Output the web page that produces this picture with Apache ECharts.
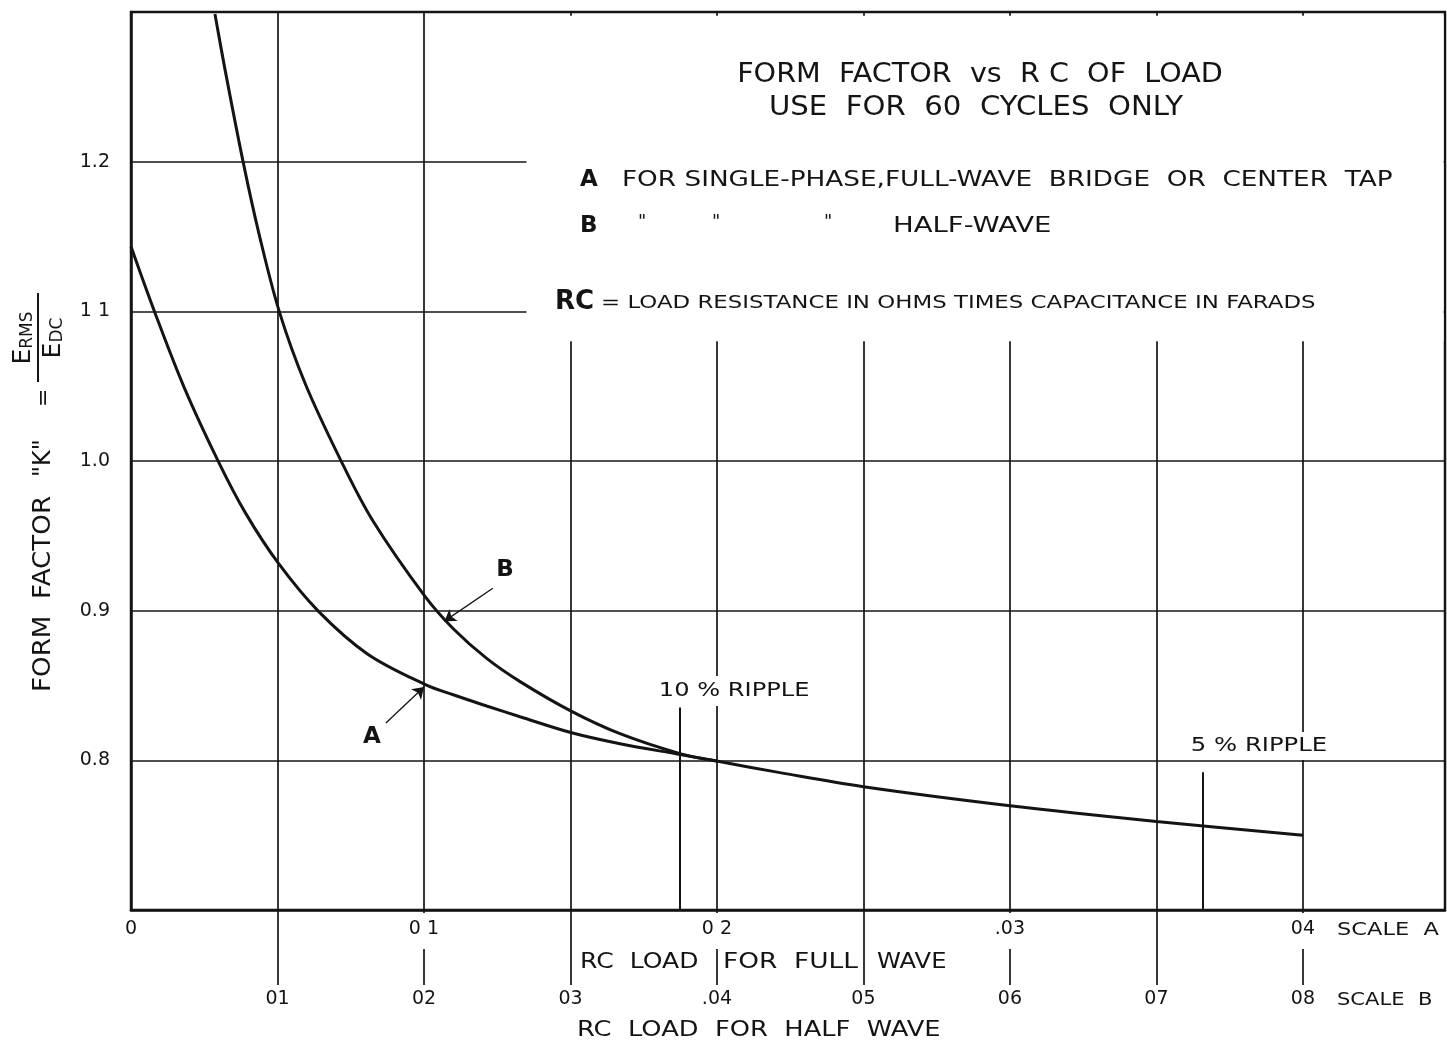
<!DOCTYPE html>
<html>
<head>
<meta charset="utf-8">
<title>Form factor vs RC of load</title>
<script src="https://cdn.jsdelivr.net/npm/echarts@6/dist/echarts.min.js"></script>
<style>
  html, body { margin: 0; padding: 0; background: #fff; }
  #chart { width: 1447px; height: 1046px; }
</style>
</head>
<body>
<div id="chart"></div>
<script>
// curve A: single-phase full wave, RC read on scale A
const curveA_rc = [0, 0.00082, 0.00182, 0.0030, 0.0039, 0.00501, 0.0064, 0.00807, 0.01003, 0.0110, 0.01214, 0.01328, 0.01504, 0.01669, 0.01874, 0.01999, 0.02215, 0.025, 0.030, 0.035, 0.040];
const curveA_k  = [1.1433, 1.0989, 1.0489, 0.9989, 0.9655, 0.9322, 0.8995, 0.8711, 0.8508, 0.8438, 0.8363, 0.8291, 0.8184, 0.8111, 0.8039, 0.7995, 0.7918, 0.7824, 0.7697, 0.7592, 0.7499];

// curve B: half wave, RC read on scale B
const curveB_rc = [0.00573, 0.00641, 0.00765, 0.00875, 0.01014, 0.01191, 0.01438, 0.01652, 0.02007, 0.0220, 0.02428, 0.02656, 0.03008, 0.03338, 0.03748, 0.03998];
const curveB_k  = [1.2987, 1.262, 1.200, 1.1513, 1.0993, 1.0513, 0.9993, 0.9599, 0.9095, 0.8879, 0.8681, 0.8526, 0.8327, 0.8178, 0.8045, 0.7995];

// ripple markers (scale A) and the K where each marker line stops
const rippleRC  = [0.01874, 0.03659];
const rippleTop = [0.8353, 0.792];
const rippleLabels = ['10 % RIPPLE', '5 % RIPPLE'];

// leader arrows for the curve letters [from, to]
const arrowA = [[0.0087, 0.825], [0.0100, 0.849]]; // scale A
const arrowB = [[0.0247, 0.915], [0.0214, 0.893]]; // scale B

// tick labels, as lettered on the sheet
const scaleATicks  = [0, 0.01, 0.02, 0.03, 0.04];
const scaleALabels = ['0', '0 1', '0 2', '.03', '04'];
const scaleBTicks  = [0.01, 0.02, 0.03, 0.04, 0.05, 0.06, 0.07, 0.08];
const scaleBLabels = ['01', '02', '03', '.04', '05', '06', '07', '08'];
const yTicks  = [0.8, 0.9, 1.0, 1.1, 1.2];
const yLabels = ['0.8', '0.9', '1.0', '1 1', '1.2'];

const INK = '#141414';
const FONT = 'DejaVu Sans';
const X_MAX_A = 0.04485;

const zip = (xs, ys) => xs.map((x, i) => [x, ys[i]]);
const pick = (ticks, labels) => (v) => {
  const i = ticks.findIndex((t) => Math.abs(t - v) < 1e-9);
  return i < 0 ? '' : labels[i];
};

// lettering on the sheet is widely spaced, so stretch text horizontally (sx)
function txt(x, y, text, o = {}) {
  const align = o.align || 'left';
  return {
    type: 'text', x, y, z: 100,
    scaleX: o.sx || 1,
    style: {
      text,
      fill: INK,
      fontFamily: FONT,
      fontSize: o.size || 20,
      fontWeight: o.weight || 'normal',
      align, textAlign: align,
      verticalAlign: 'middle', textVerticalAlign: 'middle',
      backgroundColor: o.bg,
      padding: o.pad,
      rich: o.rich
    }
  };
}

const fracRich = {
  e: { fontFamily: FONT, fontSize: 25, fill: INK, verticalAlign: 'bottom', lineHeight: 26 },
  s: { fontFamily: FONT, fontSize: 17, fill: INK, verticalAlign: 'bottom', lineHeight: 26 }
};

const graphics = [
  // title + key
  txt(980, 75, 'FORM  FACTOR  vs  R C  OF  LOAD', { size: 27, align: 'center', sx: 1.06 }),
  txt(976, 108, 'USE  FOR  60  CYCLES  ONLY', { size: 27, align: 'center', sx: 1.08 }),
  txt(580, 180, 'A', { size: 23, weight: 'bold' }),
  txt(622, 180, 'FOR SINGLE-PHASE,FULL-WAVE  BRIDGE  OR  CENTER  TAP', { size: 22, sx: 1.195 }),
  txt(580, 226, 'B', { size: 23, weight: 'bold' }),
  txt(638, 222, '"', { size: 18 }),
  txt(712, 222, '"', { size: 18 }),
  txt(824, 222, '"', { size: 18 }),
  txt(893, 226, 'HALF-WAVE', { size: 22, sx: 1.25 }),
  txt(555, 302, 'RC', { size: 26, weight: 'bold' }),
  txt(601, 303, '= LOAD RESISTANCE IN OHMS TIMES CAPACITANCE IN FARADS', { size: 18, sx: 1.27 }),

  // ripple notes (white box breaks the grid line like the original)
  txt(655, 691, rippleLabels[0], { size: 19, bg: '#fff', pad: [8, 3, 3, 3], sx: 1.27 }),
  txt(1187, 746, rippleLabels[1], { size: 19, bg: '#fff', pad: [8, 3, 1, 3], sx: 1.28 }),

  // curve letters
  txt(372, 737, 'A', { size: 23, weight: 'bold', align: 'center' }),
  txt(505, 570, 'B', { size: 23, weight: 'bold', align: 'center' }),

  // x axis titles
  txt(1337, 930, 'SCALE  A', { size: 18, sx: 1.25 }),
  txt(1337, 1000, 'SCALE  B', { size: 18, sx: 1.17 }),
  txt(580, 962, 'RC  LOAD', { size: 22, sx: 1.14 }),
  txt(723, 962, 'FOR  FULL', { size: 22, sx: 1.2 }),
  txt(877, 962, 'WAVE', { size: 22, sx: 1.1 }),
  txt(577, 1030, 'RC  LOAD  FOR  HALF  WAVE', { size: 22, sx: 1.17 }),

  // y axis title, read bottom to top
  {
    type: 'group', x: 44, y: 692, rotation: Math.PI / 2, z: 100,
    children: [
      txt(0, 0, 'FORM  FACTOR', { size: 24, sx: 1.09 }),
      txt(215, 0, '"K"', { size: 24 }),
      txt(285, 0, '=', { size: 22 }),
      txt(354, -21, '{e|E}{s|RMS}', { size: 25, align: 'center', rich: fracRich }),
      { type: 'line', z: 100, shape: { x1: 310, y1: -6, x2: 399, y2: -6 }, style: { stroke: INK, lineWidth: 2 } },
      txt(354, 9, '{e|E}{s|DC}', { size: 25, align: 'center', rich: fracRich })
    ]
  }
];

const chart = echarts.init(document.getElementById('chart'));

const option = {
  animation: false,
  backgroundColor: '#fff',
  grid: {
    left: 131, top: 12, width: 1314, height: 898,
    show: true, borderColor: INK, borderWidth: 2.5, backgroundColor: 'transparent'
  },
  xAxis: [
    {
      // scale A: bottom edge and its labels, drawn over the tick lines
      type: 'value', min: 0, max: X_MAX_A, position: 'bottom', z: 3,
      axisLine: { show: true, onZero: false, lineStyle: { color: INK, width: 2.5 } },
      axisTick: { show: false },
      splitLine: { show: false },
      axisLabel: {
        customValues: scaleATicks,
        formatter: pick(scaleATicks, scaleALabels),
        margin: 3,
        color: INK, fontFamily: FONT, fontSize: 19, lineHeight: 20,
        backgroundColor: '#fff', padding: [6, 6, 10, 6]
      }
    },
    {
      // scale B: twice scale A, carries the vertical rules and long ticks
      type: 'value', min: 0, max: X_MAX_A * 2, interval: 0.01, position: 'bottom',
      axisLine: { show: false },
      axisTick: { show: true, customValues: scaleBTicks, length: 75, lineStyle: { color: INK, width: 1.7 } },
      splitLine: { show: true, lineStyle: { color: INK, width: 1.7 } },
      axisLabel: {
        customValues: scaleBTicks,
        formatter: pick(scaleBTicks, scaleBLabels),
        margin: 80,
        color: INK, fontFamily: FONT, fontSize: 19
      }
    }
  ],
  yAxis: {
    type: 'value', min: 0.7, max: 1.3, interval: 0.1,
    axisLine: { show: true, onZero: false, lineStyle: { color: INK, width: 2.5 } },
    axisTick: { show: false },
    splitLine: { show: true, lineStyle: { color: INK, width: 1.7 } },
    axisLabel: {
      customValues: yTicks,
      formatter: pick(yTicks, yLabels),
      margin: 21,
      color: INK, fontFamily: FONT, fontSize: 19
    }
  },
  series: [
    {
      name: 'A', type: 'line', xAxisIndex: 0,
      data: zip(curveA_rc, curveA_k),
      smooth: 0.35, showSymbol: false, silent: true,
      lineStyle: { color: INK, width: 3 },
      // blank panel behind the title block (rules stop at its edge)
      markArea: {
        silent: true,
        itemStyle: { color: '#fff', opacity: 1 },
        label: { show: false },
        data: [[{ coord: [0.0135, 1.08] }, { coord: [0.0448, 1.2975] }]]
      },
      markLine: {
        silent: true,
        symbol: 'none',
        label: { show: false },
        lineStyle: { color: INK, width: 2, type: 'solid' },
        data: [
          ...rippleRC.map((rc, i) => [{ coord: [rc, 0.7] }, { coord: [rc, rippleTop[i]] }]),
          [
            { coord: arrowA[0], symbol: 'none', lineStyle: { width: 1.3 } },
            { coord: arrowA[1], symbol: 'arrow', symbolSize: 11 }
          ]
        ]
      }
    },
    {
      name: 'B', type: 'line', xAxisIndex: 1,
      data: zip(curveB_rc, curveB_k),
      smooth: 0.35, showSymbol: false, silent: true,
      lineStyle: { color: INK, width: 3 },
      markLine: {
        silent: true,
        symbol: 'none',
        label: { show: false },
        lineStyle: { color: INK, width: 1.3, type: 'solid' },
        data: [[
          { coord: arrowB[0], symbol: 'none' },
          { coord: arrowB[1], symbol: 'arrow', symbolSize: 11 }
        ]]
      }
    }
  ],
  graphic: graphics
};

chart.setOption(option);
</script>
</body>
</html>
